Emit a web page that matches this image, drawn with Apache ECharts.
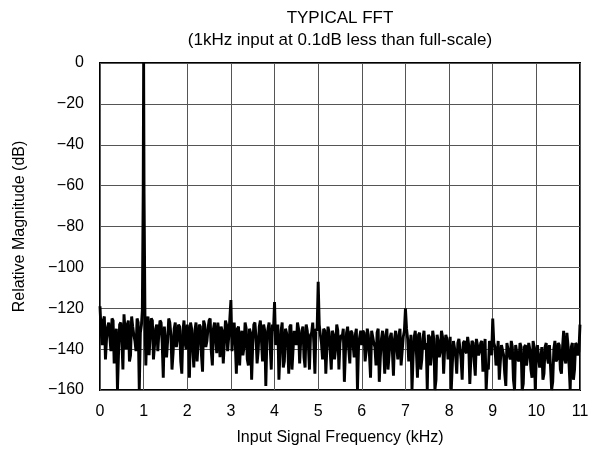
<!DOCTYPE html>
<html>
<head>
<meta charset="utf-8">
<script src="https://cdn.jsdelivr.net/npm/echarts@6/dist/echarts.min.js"></script>
<style>
html,body{margin:0;padding:0;background:#fff;}
#chart{width:595px;height:454px;}
</style>
</head>
<body>
<div id="chart"></div>
<script>
const titleLines = ['TYPICAL FFT', '(1kHz input at 0.1dB less than full-scale)'];
const xAxisName = 'Input Signal Frequency (kHz)';
const yAxisName = 'Relative Magnitude (dB)';
const xTicks = [0,1,2,3,4,5,6,7,8,9,10,11];
const yTicks = [0,-20,-40,-60,-80,-100,-120,-140,-160];

// noise floor: one value per 0.05 kHz bin, from 0.00 to 11.00 kHz
const noiseStep = 0.05;
const noiseDb = [
  -119,-138,-124,-135,-127,-141,-126,-137,-160,-128,-135,-123,-140,-126,-143,-129,-136,-125,-160,-128,
  -127,-148,-124,-133,-126,-138,-128,-132,-127,-154,-129,-136,-127,-150,-130,-139,-128,-146,-131,-137,
  -128,-154,-130,-149,-127,-137,-129,-151,-128,-136,-126,-141,-130,-135,-127,-144,-131,-137,-128,-134,
  -116,-132,-137,-130,-148,-131,-139,-130,-148,-132,-138,-127,-147,-129,-136,-128,-158,-130,-139,-128,
  -117,-135,-155,-131,-149,-130,-137,-129,-150,-131,-138,-130,-136,-129,-149,-131,-150,-132,-137,-130,
  -107,-133,-145,-131,-139,-132,-150,-133,-140,-131,-137,-134,-156,-132,-140,-131,-138,-133,-160,-134,
  -138,-132,-141,-133,-154,-134,-139,-132,-156,-135,-140,-133,-150,-134,-141,-135,-139,-133,-148,-134,
  -120,-135,-142,-160,-134,-141,-133,-150,-135,-140,-160,-134,-142,-135,-155,-136,-141,-134,-139,-135,
  -142,-160,-136,-143,-137,-140,-155,-136,-142,-138,-144,-137,-153,-138,-141,-136,-145,-160,-150,-138,
  -125,-139,-144,-155,-138,-143,-158,-137,-145,-139,-160,-138,-146,-139,-157,-138,-143,-140,-154,-139,
  -143,-138,-145,-155,-139,-144,-138,-160,-140,-146,-137,-150,-139,-145,-132,-148,-139,-155,-137,-143,
  -128
];
// in-between bins at 0.025 + n*0.05 kHz
const noiseMidDb = [
  -131,-126,-145,-129,-134,-125,-147,-130,-142,-127,-150,-131,-128,-146,-124,-133,-141,-127,-132,-125,
  -126,-131,-143,-125,-145,-130,-141,-126,-137,-129,-144,-125,-133,-142,-127,-135,-129,-152,-126,-140,
  -133,-127,-140,-131,-146,-128,-143,-126,-139,-130,-125,-148,-127,-142,-132,-129,-147,-126,-141,-125,
  -141,-127,-152,-129,-136,-143,-127,-145,-130,-155,-128,-134,-141,-126,-146,-131,-135,-127,-150,-131,
  -138,-128,-142,-127,-146,-132,-152,-128,-140,-135,-127,-147,-131,-144,-128,-138,-133,-127,-152,-131,
  -128,-137,-130,-152,-129,-141,-131,-145,-128,-150,-133,-130,-141,-129,-147,-132,-144,-130,-139,-131,
  -131,-146,-130,-143,-131,-137,-148,-130,-144,-131,-152,-130,-143,-132,-153,-131,-145,-130,-141,-131,
  -130,-146,-133,-144,-131,-154,-132,-145,-131,-137,-133,-148,-131,-160,-133,-144,-131,-152,-133,-145,
  -134,-147,-136,-152,-135,-145,-137,-141,-134,-157,-136,-146,-135,-143,-137,-151,-135,-148,-136,-143,
  -137,-148,-136,-146,-138,-152,-137,-143,-136,-155,-138,-145,-137,-160,-139,-148,-137,-150,-136,-160,
  -138,-149,-139,-152,-137,-147,-138,-156,-136,-145,-138,-152,-131,-147,-138,-160,-137,-150,-138,-141
];
// fundamental tone, finer resolution around 1 kHz
const peakFreqs = [0.97, 0.99, 1.00, 1.01, 1.03];
const peakDb = [-121, -62, 0, -64, -123];

const points = [];
noiseDb.forEach((v, i) => {
  const f = +(i * noiseStep).toFixed(3);
  if (Math.abs(f - 1) < 0.04) return;
  points.push([f, v]);
});
noiseMidDb.forEach((v, i) => {
  const f = +(noiseStep / 2 + i * noiseStep).toFixed(3);
  if (Math.abs(f - 1) < 0.04) return;
  points.push([f, v]);
});
peakFreqs.forEach((f, i) => points.push([f, peakDb[i]]));
points.sort((a, b) => a[0] - b[0]);

const FONT = "'Liberation Sans', Arial, sans-serif";
const chart = echarts.init(document.getElementById('chart'), null, {renderer: 'canvas'});
chart.setOption({
  animation: false,
  backgroundColor: '#fff',
  graphic: [
    {type: 'text', x: 340, y: 18, style: {text: titleLines[0], font: '17px ' + FONT, fill: '#000', align: 'center', verticalAlign: 'middle', textAlign: 'center', textVerticalAlign: 'middle'}},
    {type: 'text', x: 340, y: 40, style: {text: titleLines[1], font: '17px ' + FONT, fill: '#000', align: 'center', verticalAlign: 'middle', textAlign: 'center', textVerticalAlign: 'middle'}}
  ],
  grid: {left: 100, right: 15, top: 63, bottom: 64, show: true, borderColor: '#000', borderWidth: 2, backgroundColor: 'transparent', containLabel: false},
  xAxis: {
    type: 'value', min: 0, max: 11, interval: 1,
    name: xAxisName, nameLocation: 'middle', nameGap: 40,
    nameTextStyle: {fontFamily: FONT, fontSize: 16, color: '#000'},
    axisLine: {show: false}, axisTick: {show: false},
    axisLabel: {fontFamily: FONT, fontSize: 16, color: '#000', margin: 14,
      formatter: v => xTicks.includes(v) ? String(v) : ''},
    splitLine: {show: true, lineStyle: {color: '#555', width: 1}}
  },
  yAxis: {
    type: 'value', min: -160, max: 0, interval: 20,
    name: yAxisName, nameLocation: 'middle', nameGap: 72, nameRotate: 90,
    nameTextStyle: {fontFamily: FONT, fontSize: 16, color: '#000'},
    axisLine: {show: false}, axisTick: {show: false},
    axisLabel: {fontFamily: FONT, fontSize: 16, color: '#000', margin: 16,
      formatter: v => yTicks.includes(v) ? (v < 0 ? '\u2212' + Math.abs(v) : String(v)) : ''},
    splitLine: {show: true, lineStyle: {color: '#555', width: 1}}
  },
  series: [{
    type: 'line', data: points, showSymbol: false, symbol: 'none',
    lineStyle: {color: '#000', width: 2.9, join: 'miter', miterLimit: 2}, clip: true, z: 3
  }]
});
</script>
</body>
</html>
